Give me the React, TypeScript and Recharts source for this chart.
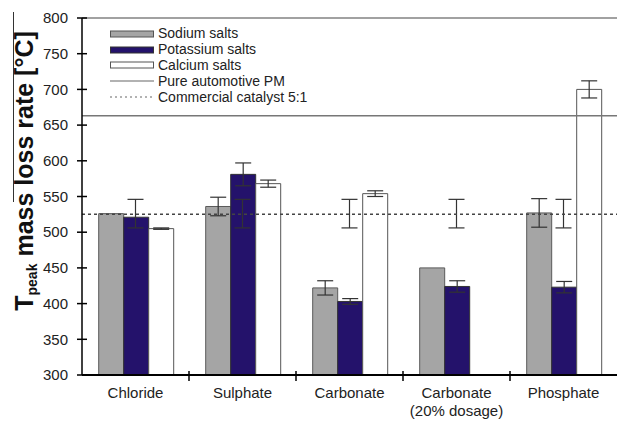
import React from "react";
import { Bar, ComposedChart, ErrorBar, ReferenceLine, Scatter, XAxis, YAxis } from "recharts";

const categories = ["Chloride", "Sulphate", "Carbonate", "Carbonate\n(20% dosage)", "Phosphate"];
const sodium = [526, 536, 422, 450, 527];
const sodiumErr = [0, 13, 10, 0, 20];
const potassium = [521, 581, 403, 424, 423];
const potassiumErr = [0, 16, 4, 8, 8];
const calcium = [505, 568, 554, null, 700];
const calciumErr = [1, 5, 4, 0, 12];
const catalyst = [526, 526, 526, 526, 526];
const catalystErr = [20, 20, 20, 20, 20];
const pureAutomotivePM = 663;
const commercialCatalyst = 525;
const yTicks = [300, 350, 400, 450, 500, 550, 600, 650, 700, 750, 800];

const data = categories.map((name, i) => ({
  name,
  sodium: sodium[i],
  sodiumErr: sodiumErr[i],
  potassium: potassium[i],
  potassiumErr: potassiumErr[i],
  calcium: calcium[i],
  calciumErr: calciumErr[i],
  catalyst: catalyst[i],
  catalystErr: catalystErr[i],
}));

const FONT = "'Liberation Sans', Arial, sans-serif";
const PLOT_W = 535;
const band = PLOT_W / categories.length;

function XTick({ x, y, payload, index }: any) {
  const lines = String(payload.value).split("\n");
  return (
    <g>
      {index > 0 && <line x1={x - band / 2} x2={x - band / 2} y1={y - 4} y2={y + 6} stroke="#000" strokeWidth={1.5} />}
      {lines.map((l, i) => (
        <text key={i} x={x} y={y + 23 + i * 18} textAnchor="middle" fontSize={15} fill="#222" fontFamily={FONT}>
          {l}
        </text>
      ))}
    </g>
  );
}

function YTick({ x, y, payload }: any) {
  return (
    <g>
      <line x1={x + 9} x2={x + 19} y1={y} y2={y} stroke="#000" strokeWidth={1.5} />
      <text x={x} y={y} dy="0.35em" textAnchor="end" fontSize={15} fill="#222" fontFamily={FONT}>
        {payload.value}
      </text>
    </g>
  );
}

function YLabel({ viewBox }: any) {
  const cx = viewBox.x + 33;
  const cy = viewBox.y + 153;
  return (
    <text
      x={cx}
      y={cy}
      transform={`rotate(-90, ${cx}, ${cy})`}
      textAnchor="middle"
      fontFamily={FONT}
      fontWeight="bold"
      fontSize={25}
      fill="#111"
    >
      <tspan>T</tspan>
      <tspan fontSize={14} dy={4}>peak</tspan>
      <tspan dy={-4}> mass loss rate [°C]</tspan>
    </text>
  );
}

function Swatch({ fill, stroke }: { fill: string; stroke: string }) {
  return (
    <svg width={44} height={8} style={{ display: "block" }}>
      <rect x={0.5} y={1} width={43} height={6} fill={fill} stroke={stroke} />
    </svg>
  );
}

function LineSwatch({ dash }: { dash?: string }) {
  return (
    <svg width={44} height={8} style={{ display: "block" }}>
      <line x1={0} x2={44} y1={4} y2={4} stroke="#666" strokeWidth={1.2} strokeDasharray={dash} />
    </svg>
  );
}

const legendItems = [
  { label: "Sodium salts", icon: <Swatch fill="#a5a5a5" stroke="#555" /> },
  { label: "Potassium salts", icon: <Swatch fill="#24126b" stroke="#333" /> },
  { label: "Calcium salts", icon: <Swatch fill="#fff" stroke="#555" /> },
  { label: "Pure automotive PM", icon: <LineSwatch /> },
  { label: "Commercial catalyst 5:1", icon: <LineSwatch dash="2 3" /> },
];

export default function App() {
  return (
    <div style={{ position: "relative", width: 619, height: 422, background: "#fff", fontFamily: FONT }}>
      <style>{"body{margin:0}"}</style>
      <ComposedChart
        width={619}
        height={422}
        data={data}
        margin={{ top: 18, right: 2, bottom: 0, left: 0 }}
        barCategoryGap="15.6%"
        barGap={0}
      >
        <XAxis
          dataKey="name"
          interval={0}
          tickLine={false}
          tickSize={0}
          tickMargin={0}
          height={47}
          axisLine={{ stroke: "#000", strokeWidth: 2 }}
          tick={<XTick />}
        />
        <YAxis
          width={82}
          domain={[300, 800]}
          ticks={yTicks}
          allowDataOverflow
          tickLine={false}
          tickSize={0}
          tickMargin={14}
          axisLine={{ stroke: "#000", strokeWidth: 1.5 }}
          tick={<YTick />}
          label={<YLabel />}
        />
        <Bar dataKey="sodium" fill="#a5a5a5" stroke="#5a5a5a" strokeWidth={1} isAnimationActive={false}>
          <ErrorBar dataKey="sodiumErr" width={8} stroke="#333" strokeWidth={1.2} />
        </Bar>
        <Bar dataKey="potassium" fill="#24126b" stroke="#333" strokeWidth={1} isAnimationActive={false}>
          <ErrorBar dataKey="potassiumErr" width={8} stroke="#333" strokeWidth={1.2} />
        </Bar>
        <Bar dataKey="calcium" fill="#fff" stroke="#555" strokeWidth={1} isAnimationActive={false}>
          <ErrorBar dataKey="calciumErr" width={8} stroke="#333" strokeWidth={1.2} />
        </Bar>
        <Scatter dataKey="catalyst" shape={() => null} isAnimationActive={false}>
          <ErrorBar dataKey="catalystErr" direction="y" width={8} stroke="#333" strokeWidth={1.2} />
        </Scatter>
        <ReferenceLine y={800} stroke="#444" strokeWidth={1.2} />
        <ReferenceLine y={pureAutomotivePM} stroke="#777" strokeWidth={1.5} />
        <ReferenceLine y={commercialCatalyst} stroke="#444" strokeWidth={1.5} strokeDasharray="3 3" />
      </ComposedChart>
      <div style={{ position: "absolute", left: 13, top: 12, width: 1, height: 190, background: "#333" }} />
      <div style={{ position: "absolute", left: 110, top: 26 }}>
        {legendItems.map((it) => (
          <div key={it.label} style={{ display: "flex", alignItems: "center", height: 15.8 }}>
            {it.icon}
            <span style={{ marginLeft: 4, fontSize: 14, color: "#222", lineHeight: "15px" }}>{it.label}</span>
          </div>
        ))}
      </div>
    </div>
  );
}
